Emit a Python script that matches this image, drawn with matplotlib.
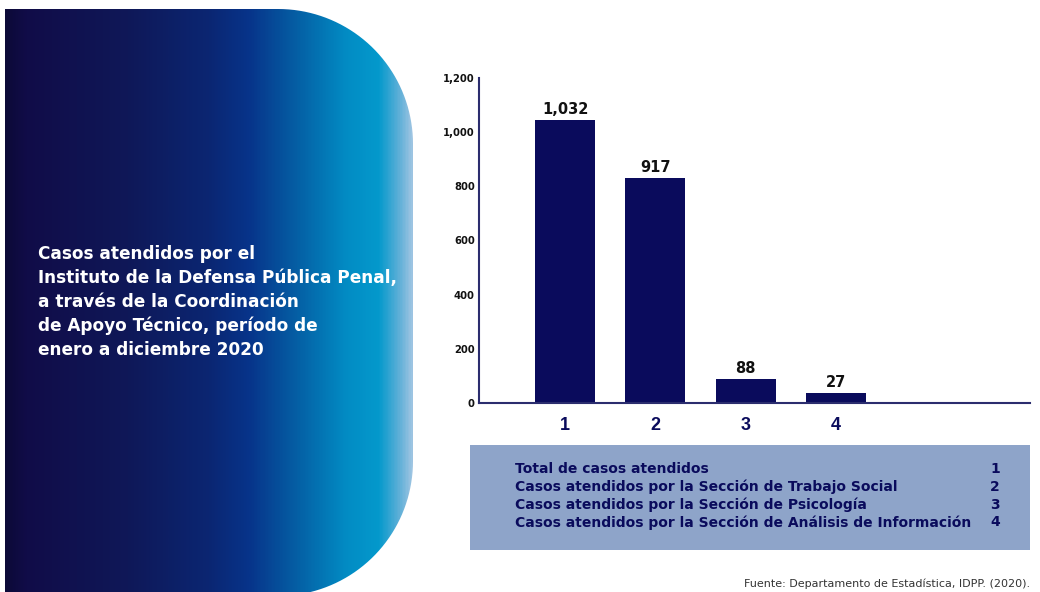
import numpy as np
import matplotlib.pyplot as plt
from matplotlib.colors import LinearSegmentedColormap
from matplotlib.path import Path
from matplotlib.patches import PathPatch, Rectangle

# datos
categorias = ["1", "2", "3", "4"]
valores = [1032, 917, 88, 27]          # etiquetas sobre las barras
alturas = [1045, 830, 90, 38]          # altura de las barras tal como se dibujan
yticks = [0, 200, 400, 600, 800, 1000, 1200]
leyenda = ["Total de casos atendidos",
           "Casos atendidos por la Sección de Trabajo Social",
           "Casos atendidos por la Sección de Psicología",
           "Casos atendidos por la Sección de Análisis de Información"]
titulo = ("Casos atendidos por el\n"
          "Instituto de la Defensa Pública Penal,\n"
          "a través de la Coordinación\n"
          "de Apoyo Técnico, período de\n"
          "enero a diciembre 2020")
fuente = "Fuente: Departamento de Estadística, IDPP. (2020)."

navy = "#0a0b5c"

fig = plt.figure(figsize=(10.4, 5.92), dpi=100)

# fondo en pixeles
bg = fig.add_axes([0, 0, 1, 1])
bg.set_xlim(0, 1040)
bg.set_ylim(592, 0)
bg.axis("off")

# panel izquierdo con esquinas derechas redondeadas
R = 135
x0, x1, y0, y1 = 5, 413, 9, 596
t1 = np.linspace(-np.pi / 2, 0, 40)
t2 = np.linspace(0, np.pi / 2, 40)
pts = [(x0, y0)]
pts += list(zip(x1 - R + R * np.cos(t1), y0 + R + R * np.sin(t1)))
pts += list(zip(x1 - R + R * np.cos(t2), y1 - R + R * np.sin(t2)))
pts += [(x0, y1), (x0, y0)]
panel = PathPatch(Path(pts), facecolor="none", edgecolor="none")
bg.add_patch(panel)

cmap = LinearSegmentedColormap.from_list("panel", [
    (0.0, "#0c0a38"), (0.05, "#110c48"), (0.3, "#0f1858"), (0.5, "#0b2672"),
    (0.6, "#07348a"), (0.72, "#0560a5"), (0.84, "#028cc4"), (0.92, "#0499cc"),
    (0.97, "#60b0d8"), (1.0, "#9cc4e2")])
grad = np.linspace(0, 1, 400).reshape(1, -1)
im = bg.imshow(grad, cmap=cmap, extent=[x0, x1, y1, y0], aspect="auto")
im.set_clip_path(panel)

bg.text(38, 302, titulo, color="white", fontsize=12.2, fontweight="bold",
        family="DejaVu Sans", va="center", ha="left", linespacing=1.42)

# cuadro de leyenda
bg.add_patch(Rectangle((470, 445), 560, 105, facecolor="#8ea4c9", edgecolor="none"))
for i, txt in enumerate(leyenda):
    y = 469 + i * 17.8
    bg.text(515, y, txt, color=navy, fontsize=10, fontweight="bold",
            family="DejaVu Sans", va="center")
    bg.text(995, y, categorias[i], color=navy, fontsize=10, fontweight="bold",
            family="DejaVu Sans", va="center", ha="center")

bg.text(1030, 584, fuente, color="#333333", fontsize=8, family="DejaVu Sans",
        ha="right", va="center")

# grafica de barras
ax = fig.add_axes([479 / 1040, (592 - 403) / 592, 551 / 1040, 325 / 592])
ax.patch.set_alpha(0)
x = np.arange(1, len(categorias) + 1)
ax.bar(x, alturas, width=0.664, color=navy)
for xi, h, v in zip(x, alturas, valores):
    ax.annotate(f"{v:,}", (xi, h), xytext=(0, 2), textcoords="offset points",
                ha="center", va="bottom", fontsize=10.5, fontweight="bold",
                family="DejaVu Sans", color="#111111")

ax.set_xlim(0.048, 6.147)
ax.set_ylim(0, 1200)
ax.set_xticks(x)
ax.set_xticklabels(categorias, fontsize=13, fontweight="bold", color=navy,
                   family="Liberation Sans")
ax.set_yticks(yticks)
ax.set_yticklabels([f"{v:,}" for v in yticks], fontsize=7.2, fontweight="bold",
                   family="DejaVu Sans", color="#111111")
ax.tick_params(axis="both", length=0)
ax.tick_params(axis="x", pad=10)
ax.tick_params(axis="y", pad=3)
for s in ["top", "right"]:
    ax.spines[s].set_visible(False)
for s in ["left", "bottom"]:
    ax.spines[s].set_color("#2b2d6e")
    ax.spines[s].set_linewidth(1.5)

fig.savefig("out.png", dpi=100)
